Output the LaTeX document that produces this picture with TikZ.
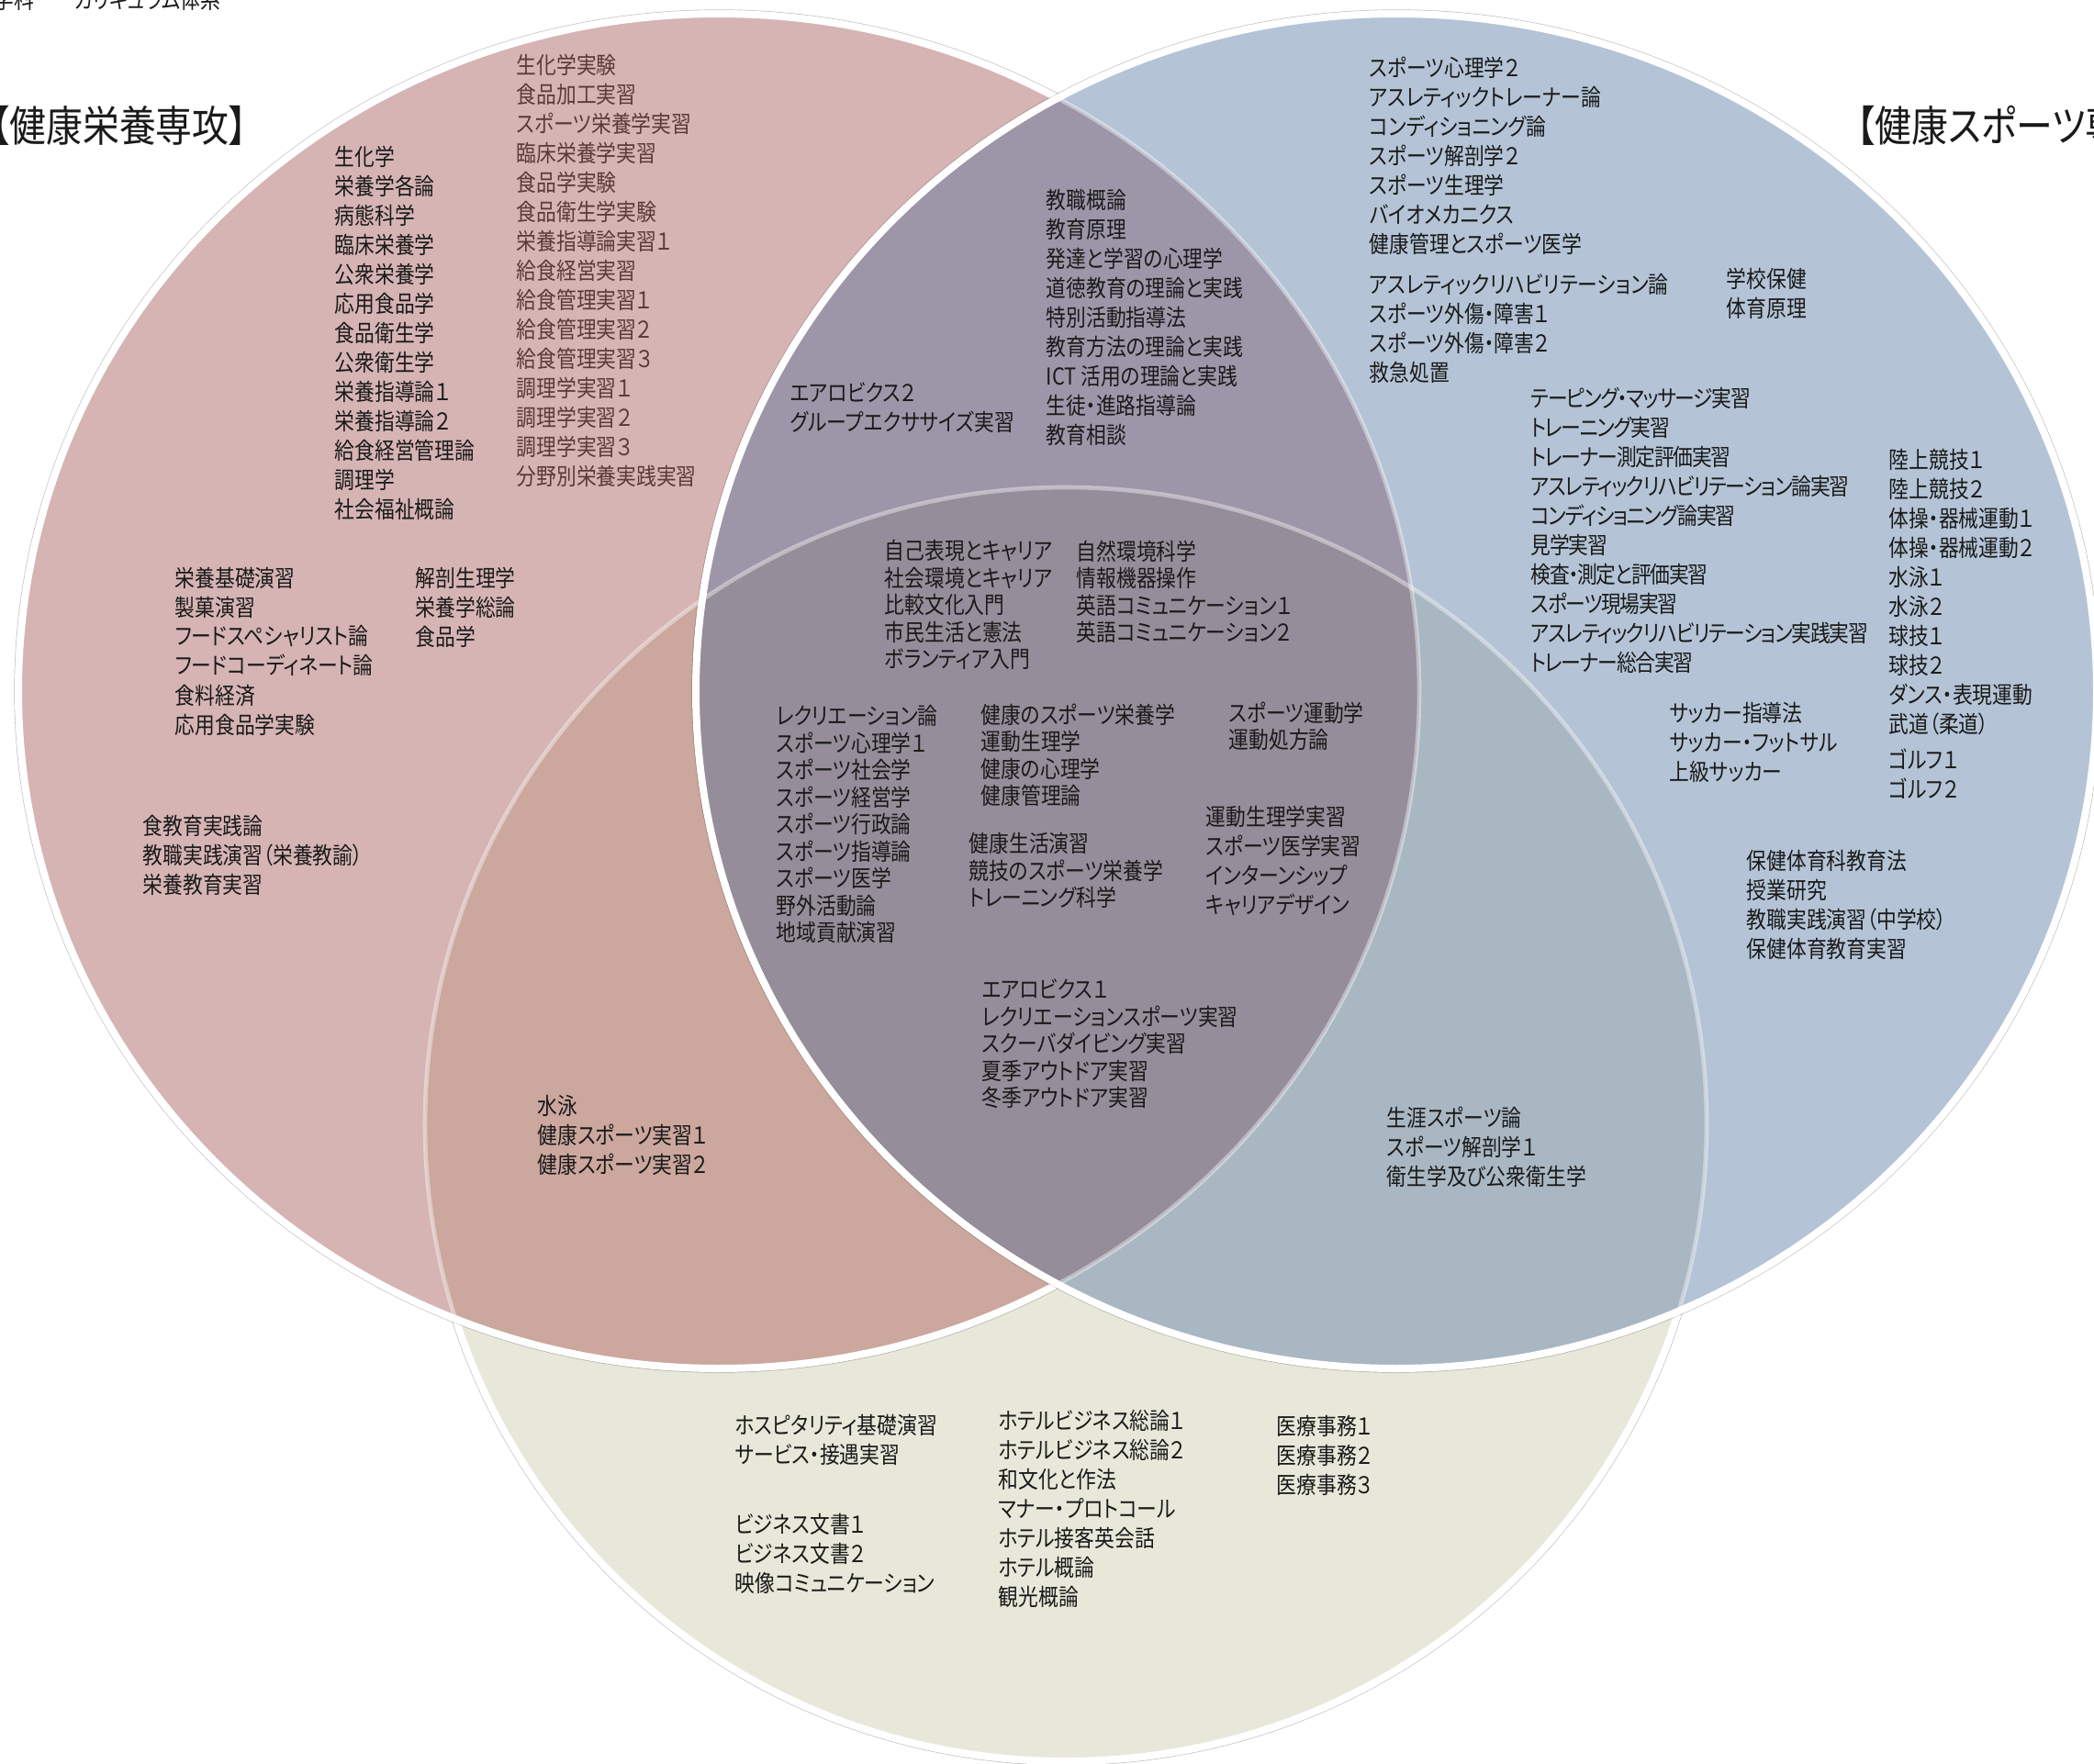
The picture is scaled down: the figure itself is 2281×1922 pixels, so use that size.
\documentclass[tikz,border=0pt]{standalone}
\usepackage{fontspec}
\setmainfont{Noto Sans CJK JP}[RawFeature=+palt,FakeStretch=0.86]

\definecolor{redset}{HTML}{D6B4B4}
\definecolor{blueset}{HTML}{B4C4D6}
\definecolor{greenset}{HTML}{E8E8DA}
\definecolor{redblue}{HTML}{9C96A8}
\definecolor{redgreen}{HTML}{CBA79E}
\definecolor{bluegreen}{HTML}{A9B7C2}
\definecolor{allthree}{HTML}{958D99}
\definecolor{brownink}{HTML}{5C3A3A}
\definecolor{ink}{HTML}{1A1A1A}

\begin{document}
\begin{tikzpicture}[x=0.3pt, y=-0.3pt,
  course/.style={anchor=north west, inner sep=0pt, align=left, text=ink,
    font=\fontsize{7.6}{9.6}\selectfont},
  tight/.style={font=\fontsize{7.6}{8.85}\selectfont},
  narrow/.style={font=\fontsize{7.6}{9.6}\selectfont\addfontfeature{LetterSpace=-5}},
  heading/.style={anchor=west, inner sep=0pt, text=ink, font=\fontsize{13.9}{15}\selectfont},
  bigset/.style={x radius=228.9pt, y radius=221.4pt},
  smallset/.style={x radius=209.4pt, y radius=208.2pt},
  rim/.style={draw=white, line width=2.4pt},
  shade/.style={draw=black, draw opacity=0.25, line width=2.8pt, yshift=-1.2pt, xshift=0.4pt},
  faint/.style={draw=white, draw opacity=0.4, line width=1.4pt}]

  \useasboundingbox (0,0) rectangle (2281,1922);
  \clip (0,0) rectangle (2281,1922);

  \coordinate (R) at (783,753);
  \coordinate (B) at (1521,753);
  \coordinate (G) at (1161,1225);

  % the three sets
  \draw[shade] (G) ellipse [smallset];
  \fill[greenset] (G) ellipse [smallset];
  \draw[rim] (G) ellipse [smallset];

  \draw[shade] (R) ellipse [bigset];
  \fill[redset] (R) ellipse [bigset];
  \begin{scope}
    \clip (R) ellipse [bigset];
    \fill[redgreen] (G) ellipse [smallset];
  \end{scope}
  \draw[rim] (R) ellipse [bigset];

  \draw[shade] (B) ellipse [bigset];
  \fill[blueset] (B) ellipse [bigset];
  \begin{scope}
    \clip (B) ellipse [bigset];
    \fill[bluegreen] (G) ellipse [smallset];
    \fill[redblue] (R) ellipse [bigset];
    \clip (R) ellipse [bigset];
    \fill[allthree] (G) ellipse [smallset];
  \end{scope}
  \draw[rim] (B) ellipse [bigset];
  \draw[faint] (G) ellipse [smallset];
  \draw[faint] (R) ellipse [bigset];

  % headings
  \node[anchor=base west, inner sep=0pt, text=ink, font=\fontsize{7.6}{8}\selectfont] (doctitle) at (-7,10) {学科　　カリキュラム体系};
  \node[heading] (eiyo) at (-10,137) {【健康栄養専攻】};
  \node[heading] (sports) at (2022,137) {【健康スポーツ専攻】};

  % red only
  \node[course] (eiyoKogi) at (364,158) {生化学\\栄養学各論\\病態科学\\臨床栄養学\\公衆栄養学\\応用食品学\\食品衛生学\\公衆衛生学\\栄養指導論１\\栄養指導論２\\給食経営管理論\\調理学\\社会福祉概論};
  \node[course, text=brownink] (eiyoJikken) at (562,58) {生化学実験\\食品加工実習\\スポーツ栄養学実習\\臨床栄養学実習\\食品学実験\\食品衛生学実験\\栄養指導論実習１\\給食経営実習\\給食管理実習１\\給食管理実習２\\給食管理実習３\\調理学実習１\\調理学実習２\\調理学実習３\\分野別栄養実践実習};
  \node[course] (eiyoEnshu) at (190,617) {栄養基礎演習\\製菓演習\\フードスペシャリスト論\\フードコーディネート論\\食料経済\\応用食品学実験};
  \node[course] (eiyoKiso) at (452,617) {解剖生理学\\栄養学総論\\食品学};
  \node[course] (eiyoKyoshoku) at (155,887) {食教育実践論\\教職実践演習（栄養教諭）\\栄養教育実習};

  % red and green
  \node[course] (redGreen) at (585,1193) {水泳\\健康スポーツ実習１\\健康スポーツ実習２};

  % red and blue
  \node[course] (aerobics) at (860,416) {エアロビクス２\\グループエクササイズ実習};
  \node[course] (kyoshoku) at (1139,206) {教職概論\\教育原理\\発達と学習の心理学\\道徳教育の理論と実践\\特別活動指導法\\教育方法の理論と実践\\ICT 活用の理論と実践\\生徒・進路指導論\\教育相談};

  % all three
  \node[course, tight] (kyoyoA) at (963,588) {自己表現とキャリア\\社会環境とキャリア\\比較文化入門\\市民生活と憲法\\ボランティア入門};
  \node[course, tight] (kyoyoB) at (1172,588) {自然環境科学\\情報機器操作\\英語コミュニケーション１\\英語コミュニケーション２};
  \node[course, tight] (kyotsuA) at (845,768) {レクリエーション論\\スポーツ心理学１\\スポーツ社会学\\スポーツ経営学\\スポーツ行政論\\スポーツ指導論\\スポーツ医学\\野外活動論\\地域貢献演習};
  \node[course, tight] (kyotsuB) at (1068,766) {健康のスポーツ栄養学\\運動生理学\\健康の心理学\\健康管理論};
  \node[course, tight] (kyotsuC) at (1338,764) {スポーツ運動学\\運動処方論};
  \node[course, tight] (kyotsuD) at (1055,907) {健康生活演習\\競技のスポーツ栄養学\\トレーニング科学};
  \node[course] (kyotsuE) at (1313,877) {運動生理学実習\\スポーツ医学実習\\インターンシップ\\キャリアデザイン};
  \node[course, tight] (kyotsuF) at (1069,1066) {エアロビクス１\\レクリエーションスポーツ実習\\スクーバダイビング実習\\夏季アウトドア実習\\冬季アウトドア実習};

  % blue only
  \node[course] (trainerA) at (1491,61) {スポーツ心理学２\\アスレティックトレーナー論\\コンディショニング論\\スポーツ解剖学２\\スポーツ生理学\\バイオメカニクス\\健康管理とスポーツ医学};
  \node[course] (trainerB) at (1491,298) {アスレティックリハビリテーション論\\スポーツ外傷・障害１\\スポーツ外傷・障害２\\救急処置};
  \node[course] (hoken) at (1880,291) {学校保健\\体育原理};
  \node[course, narrow] (trainerC) at (1667,422) {テーピング・マッサージ実習\\トレーニング実習\\トレーナー測定評価実習\\アスレティックリハビリテーション論実習\\コンディショニング論実習\\見学実習\\検査・測定と評価実習\\スポーツ現場実習\\アスレティックリハビリテーション実践実習\\トレーナー総合実習};
  \node[course] (jitsugi) at (2057,489) {陸上競技１\\陸上競技２\\体操・器械運動１\\体操・器械運動２\\水泳１\\水泳２\\球技１\\球技２\\ダンス・表現運動\\武道（柔道）};
  \node[course] (golf) at (2057,815) {ゴルフ１\\ゴルフ２};
  \node[course] (soccer) at (1818,764) {サッカー指導法\\サッカー・フットサル\\上級サッカー};
  \node[course] (hokentaiiku) at (1902,926) {保健体育科教育法\\授業研究\\教職実践演習（中学校）\\保健体育教育実習};

  % blue and green
  \node[course] (blueGreen) at (1510,1205) {生涯スポーツ論\\スポーツ解剖学１\\衛生学及び公衆衛生学};

  % green only
  \node[course] (hotelA) at (800,1541) {ホスピタリティ基礎演習\\サービス・接遇実習};
  \node[course] (bizA) at (800,1648) {ビジネス文書１\\ビジネス文書２\\映像コミュニケーション};
  \node[course] (hotelB) at (1087,1536) {ホテルビジネス総論１\\ホテルビジネス総論２\\和文化と作法\\マナー・プロトコール\\ホテル接客英会話\\ホテル概論\\観光概論};
  \node[course] (iryo) at (1390,1542) {医療事務１\\医療事務２\\医療事務３};
\end{tikzpicture}
\end{document}
